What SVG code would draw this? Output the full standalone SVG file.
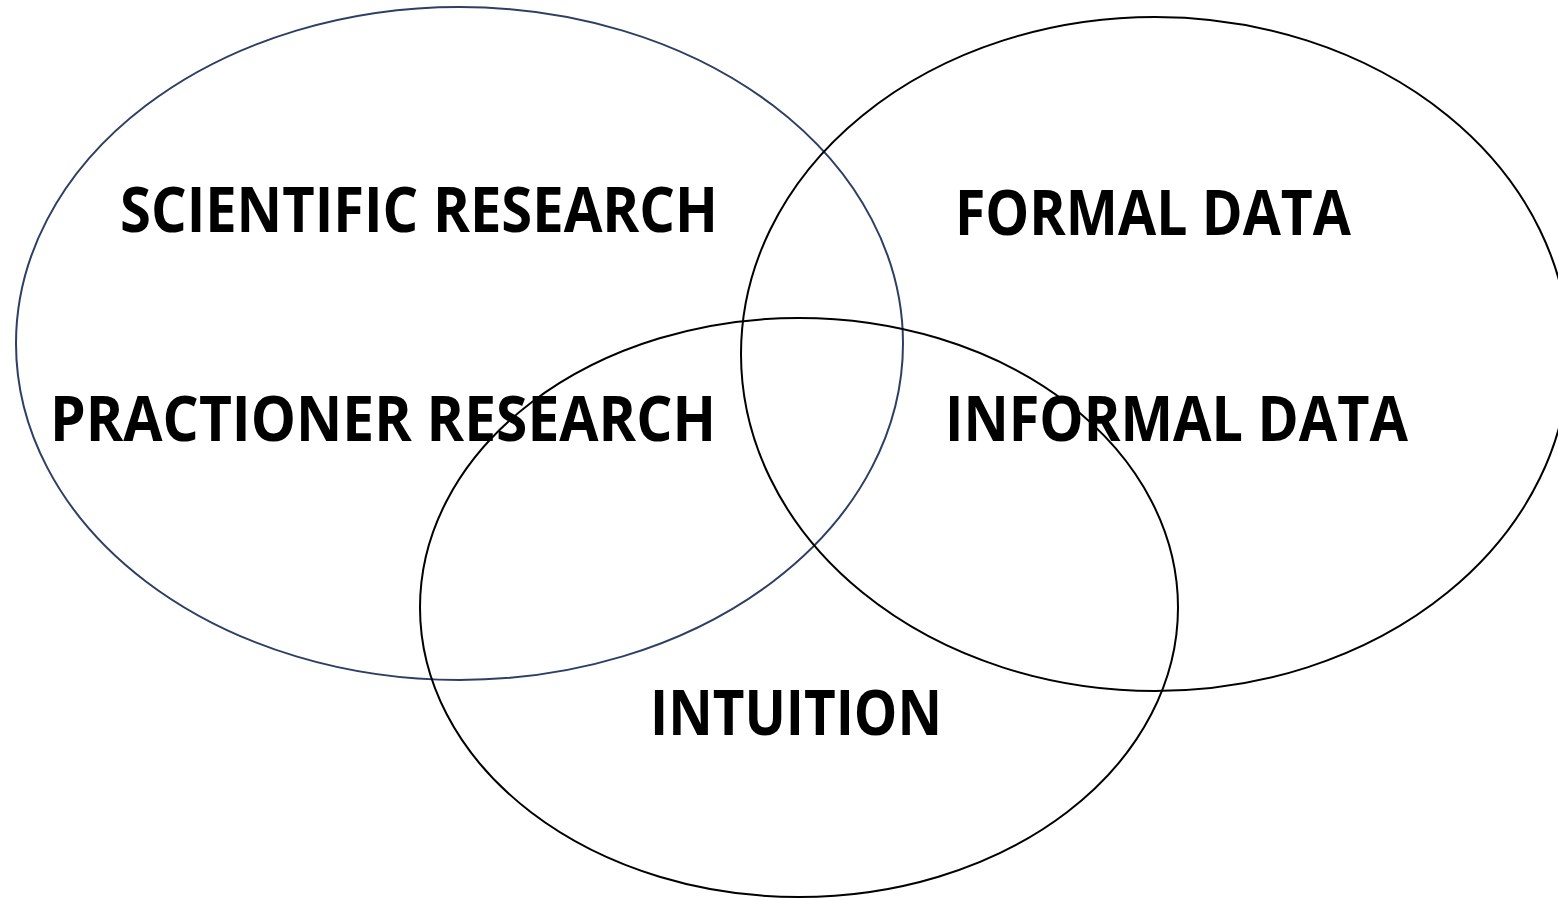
<svg xmlns="http://www.w3.org/2000/svg" width="1558" height="900" viewBox="0 0 1558 900">
<style>
.set{fill:none;stroke:#000;stroke-width:2}
.blue{stroke:#2E3F63}
.lbl{font-family:"Open Sans","Liberation Sans",sans-serif;font-weight:bold;font-size:63px;fill:#000}
</style>
<rect width="1558" height="900" fill="#fff"/>
<g id="set-research">
<ellipse class="set blue" cx="459.5" cy="343.5" rx="443.5" ry="336.5"/>
</g>
<g id="set-data">
<ellipse class="set" cx="1155" cy="354" rx="414" ry="337"/>
</g>
<g id="set-intuition">
<ellipse class="set" cx="799" cy="607.5" rx="379" ry="289.5"/>
</g>
<g id="labels">
<text class="lbl" x="120" y="232" textLength="598" lengthAdjust="spacingAndGlyphs">SCIENTIFIC RESEARCH</text>
<text class="lbl" x="955" y="235" textLength="396" lengthAdjust="spacingAndGlyphs">FORMAL DATA</text>
<text class="lbl" x="50" y="441" textLength="666" lengthAdjust="spacingAndGlyphs">PRACTIONER RESEARCH</text>
<text class="lbl" x="945" y="441" textLength="463" lengthAdjust="spacingAndGlyphs">INFORMAL DATA</text>
<text class="lbl" x="650" y="735" textLength="292" lengthAdjust="spacingAndGlyphs">INTUITION</text>
</g>
</svg>
